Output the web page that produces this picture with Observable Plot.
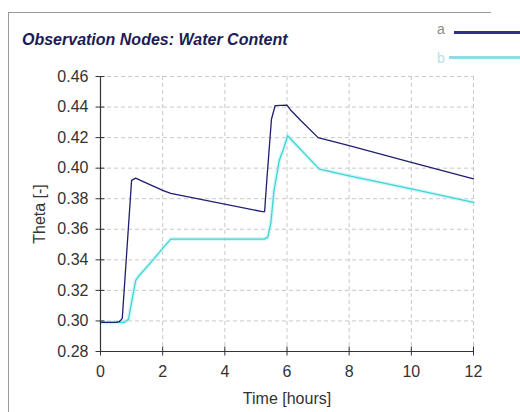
<!DOCTYPE html>
<html>
<head>
<meta charset="utf-8">
<script src="https://cdn.jsdelivr.net/npm/d3@7"></script>
<script src="https://cdn.jsdelivr.net/npm/@observablehq/plot@0.6"></script>
<style>
  html, body { margin: 0; padding: 0; background: #fff; }
  #wrap { position: relative; width: 520px; height: 412px; overflow: hidden; font-family: "Liberation Sans", Arial, sans-serif; }
  #frame { position: absolute; left: 8px; top: 12px; width: 482px; height: 420px; border-top: 1px solid #9a9a9a; border-left: 1px solid #9a9a9a; }
  #title { position: absolute; left: 22px; top: 31px; font-size: 16px; font-weight: bold; font-style: italic; color: #1c1c55; white-space: nowrap; }
  .leg { position: absolute; font-size: 14px; }
  .legline { position: absolute; height: 3px; }
  #chart { position: absolute; left: 0; top: 0; }
</style>
</head>
<body>
<div id="wrap">
  <div id="frame"></div>
  <div id="chart"></div>
  <div id="title">Observation Nodes: Water Content</div>
  <div class="leg" style="left:437px; top:21px; color:#8a8a8a;">a</div>
  <div class="legline" style="left:454px; top:31px; width:66px; background:#2e2e8e;"></div>
  <div class="leg" style="left:437px; top:50px; color:#b8dfe6;">b</div>
  <div class="legline" style="left:449px; top:56px; width:71px; background:#8fdde2;"></div>
</div>
<script>
const timeA  = [0, 0.5, 0.6, 0.7, 1.0, 1.13, 1.5, 2.0, 2.26, 5.21, 5.28, 5.35, 5.5, 5.62, 6.0, 6.13, 6.45, 7.0, 8, 10, 12];
const thetaA = [0.299, 0.299, 0.2995, 0.3015, 0.392, 0.3935, 0.390, 0.3855, 0.3835, 0.3715, 0.3715, 0.392, 0.432, 0.441, 0.4413, 0.4377, 0.431, 0.420, 0.4147, 0.4038, 0.393];
const timeB  = [0, 0.75, 0.9, 1.13, 1.24, 1.67, 1.94, 2.26, 5.26, 5.38, 5.48, 5.58, 5.75, 5.88, 6.02, 7.04, 8, 10, 12];
const thetaB = [0.299, 0.299, 0.301, 0.3264, 0.3296, 0.3395, 0.346, 0.3536, 0.3536, 0.3547, 0.364, 0.385, 0.405, 0.412, 0.4212, 0.3994, 0.395, 0.3864, 0.3776];
const xTicks = [0, 2, 4, 6, 8, 10, 12];
const yTicks = [0.28, 0.30, 0.32, 0.34, 0.36, 0.38, 0.40, 0.42, 0.44, 0.46];

const seriesA = timeA.map((t, i) => ({t, v: thetaA[i]}));
const seriesB = timeB.map((t, i) => ({t, v: thetaB[i]}));

const plot = Plot.plot({
  width: 520,
  height: 412,
  marginLeft: 100,
  marginRight: 47,
  marginTop: 76,
  marginBottom: 61,
  style: { fontFamily: '"Liberation Sans", Arial, sans-serif', fontSize: "16px", color: "#333", background: "transparent" },
  x: { domain: [0, 12] },
  y: { domain: [0.28, 0.46] },
  marks: [
    Plot.ruleY(yTicks.slice(1), { stroke: "#c8c8c8", strokeDasharray: "4,3" }),
    Plot.ruleX(xTicks.slice(1), { stroke: "#c8c8c8", strokeDasharray: "4,3" }),
    Plot.line(seriesB, { x: "t", y: "v", stroke: "#bff0f2", strokeWidth: 4, strokeOpacity: 0.6 }),
    Plot.line(seriesB, { x: "t", y: "v", stroke: "#3fd4d6", strokeWidth: 1.3 }),
    Plot.line(seriesA, { x: "t", y: "v", stroke: "#1e1e6e", strokeWidth: 1.3 }),
    Plot.ruleX([0], { stroke: "#333", strokeWidth: 1.2 }),
    Plot.ruleY([0.28], { stroke: "#333", strokeWidth: 1.2 }),
    Plot.axisY({ ticks: yTicks, tickSize: 9, dx: 4.5, tickFormat: () => "", label: null, stroke: "#333" }),
    Plot.axisY({ ticks: yTicks, tickSize: 0, tickPadding: 12, tickFormat: d => d.toFixed(2), label: "Theta [-]", labelAnchor: "center", labelArrow: "none", labelOffset: 67, fontSize: 16 }),
    Plot.axisX({ ticks: xTicks, tickSize: 9, dy: -4.5, tickFormat: () => "", label: null, stroke: "#333" }),
    Plot.axisX({ ticks: xTicks, tickSize: 0, tickPadding: 14, label: "Time [hours]", labelAnchor: "center", labelArrow: "none", labelOffset: 52, fontSize: 16 })
  ]
});
document.getElementById("chart").appendChild(plot);
</script>
</body>
</html>
